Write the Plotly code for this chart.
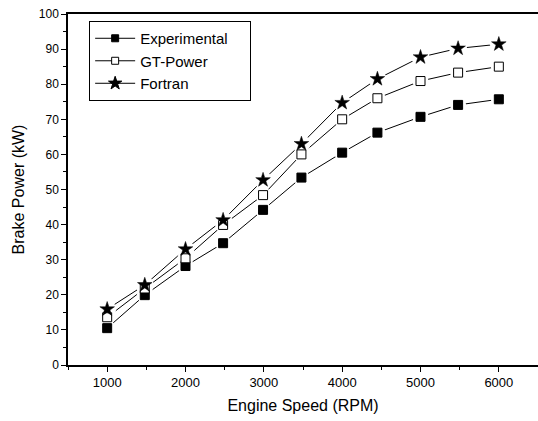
import plotly.graph_objects as go

# Engine speed sweep (RPM)
speed = [1000, 1480, 2000, 2480, 2990, 3480, 4000, 4450, 5000, 5480, 6000]

# Brake power (kW) per source
experimental = [10.5, 19.9, 28.2, 34.7, 44.2, 53.4, 60.5, 66.2, 70.7, 74.1, 75.7]
gt_power = [13.6, 21.8, 30.4, 39.9, 48.4, 60.0, 70.0, 76.0, 80.9, 83.3, 85.0]
fortran = [15.9, 22.8, 33.0, 41.3, 52.7, 63.0, 74.7, 81.5, 87.7, 90.2, 91.4]

font_family = "Liberation Sans, Arial, sans-serif"
pad = "\u00a0" * 4  # right padding inside the legend box

series = [
    dict(name="Experimental", y=experimental, symbol="square", size=9,
         legend_size=7, fill="black"),
    dict(name="GT-Power", y=gt_power, symbol="square", size=9,
         legend_size=7, fill="white"),
    dict(name="Fortran", y=fortran, symbol="star", size=11,
         legend_size=10, fill="black"),
]

fig = go.Figure()

# connecting lines (also provide the legend samples)
for s in series:
    fig.add_trace(go.Scatter(
        x=speed, y=s["y"], name=s["name"] + pad, mode="lines+markers",
        line=dict(color="black", width=1),
        marker=dict(symbol=s["symbol"], size=s["legend_size"], color=s["fill"],
                    line=dict(color="black", width=1)),
    ))

# white halos so the lines stop short of each symbol
for s in series:
    fig.add_trace(go.Scatter(
        x=speed, y=s["y"], mode="markers", showlegend=False, hoverinfo="skip",
        marker=dict(symbol="circle", size=s["size"] + 7, color="white",
                    line=dict(width=0)),
    ))

# data symbols on top
for s in series:
    fig.add_trace(go.Scatter(
        x=speed, y=s["y"], name=s["name"], mode="markers", showlegend=False,
        marker=dict(symbol=s["symbol"], size=s["size"], color=s["fill"],
                    line=dict(color="black", width=1 if s["symbol"] == "square" else 0.5)),
    ))

fig.update_layout(
    width=538, height=421,
    margin=dict(l=68, r=0, t=14, b=56),
    paper_bgcolor="white", plot_bgcolor="white",
    font=dict(family=font_family, color="black", size=12),
    showlegend=True,
    legend=dict(
        x=0.045, y=0.98, xanchor="left", yanchor="top",
        bgcolor="white", bordercolor="black", borderwidth=1,
        font=dict(size=15, family=font_family),
        tracegroupgap=0, itemwidth=40,
    ),
    xaxis=dict(
        range=[500, 6500], tickvals=[1000, 2000, 3000, 4000, 5000, 6000],
        showgrid=False, zeroline=False,
        showline=True, linecolor="black", linewidth=1.5, mirror=True,
        ticks="outside", ticklen=5, tickwidth=1, tickcolor="black",
        minor=dict(tickvals=[500, 1500, 2500, 3500, 4500, 5500, 6500],
                   ticks="outside", ticklen=3, tickcolor="black"),
        tickfont=dict(size=13),
        title=dict(text="Engine Speed (RPM)", font=dict(size=16), standoff=10),
    ),
    yaxis=dict(
        range=[0, 100], dtick=10,
        showgrid=False, zeroline=False,
        showline=True, linecolor="black", linewidth=1.5,
        ticks="outside", ticklen=5, tickwidth=1, tickcolor="black",
        minor=dict(dtick=5, ticks="outside", ticklen=3, tickcolor="black"),
        tickfont=dict(size=12),
        title=dict(text="Brake Power (kW)", font=dict(size=16), standoff=10),
    ),
)

fig.write_html("out.html")
